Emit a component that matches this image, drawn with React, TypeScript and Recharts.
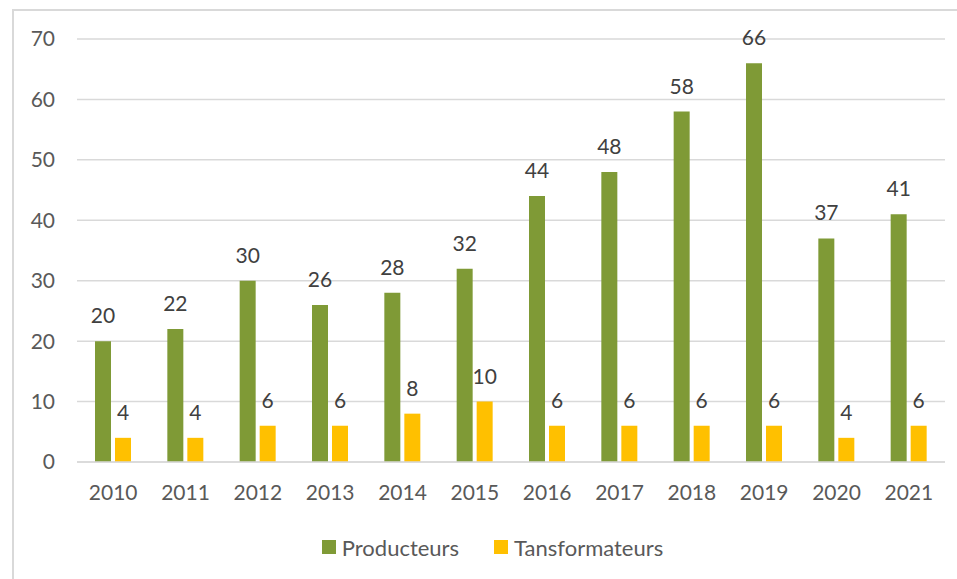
import React from 'react';
import { Bar, BarChart, CartesianGrid, LabelList, Legend, XAxis, YAxis } from 'recharts';

const YEARS = ['2010', '2011', '2012', '2013', '2014', '2015', '2016', '2017', '2018', '2019', '2020', '2021'];
const PRODUCTEURS = [20, 22, 30, 26, 28, 32, 44, 48, 58, 66, 37, 41];
const TRANSFORMATEURS = [4, 4, 6, 6, 8, 10, 6, 6, 6, 6, 4, 6];
const Y_TICKS = [0, 10, 20, 30, 40, 50, 60, 70];

const GREEN = '#7F9A36';
const YELLOW = '#FFC000';
const AXIS_TEXT = '#595959';
const LABEL_TEXT = '#404040';
const GRID = '#D9D9D9';
const FONT = 'Lato, "Open Sans", sans-serif';

const chartData = YEARS.map((year, i) => ({
  year,
  producteurs: PRODUCTEURS[i],
  transformateurs: TRANSFORMATEURS[i],
}));

const LegendContent = () => (
  <div
    style={{
      height: 40,
      display: 'flex',
      alignItems: 'center',
      justifyContent: 'center',
      paddingLeft: 40,
      fontFamily: FONT,
      fontSize: 22,
      color: AXIS_TEXT,
    }}
  >
    <span style={{ display: 'inline-block', width: 14, height: 14, background: GREEN, marginRight: 6 }} />
    <span style={{ marginRight: 35 }}>Producteurs</span>
    <span style={{ display: 'inline-block', width: 14, height: 14, background: YELLOW, marginRight: 6 }} />
    <span>Tansformateurs</span>
  </div>
);

export default function App() {
  return (
    <div style={{ position: 'fixed', left: 0, top: 0, width: 957, height: 579, background: '#fff', overflow: 'hidden' }}>
      <div
        style={{
          position: 'absolute',
          left: 12,
          top: 9,
          width: 980,
          height: 600,
          border: `2px solid ${GRID}`,
          boxSizing: 'border-box',
        }}
      />
      <div style={{ position: 'absolute', left: 0, top: 0 }}>
        <BarChart
          width={957}
          height={579}
          data={chartData}
          margin={{ top: 39, right: 12, left: 0, bottom: 12 }}
          barCategoryGap={18}
          barGap={4}
        >
          <CartesianGrid vertical={false} stroke={GRID} strokeWidth={1.5} />
          <XAxis
            dataKey="year"
            height={65}
            axisLine={{ stroke: GRID, strokeWidth: 1.5 }}
            tickLine={false}
            tickSize={0}
            tickMargin={23}
            tick={{ fill: AXIS_TEXT, fontSize: 21, fontFamily: FONT }}
          />
          <YAxis
            width={77}
            domain={[0, 70]}
            ticks={Y_TICKS}
            axisLine={false}
            tickLine={false}
            tickSize={0}
            tickMargin={22}
            tick={{ fill: AXIS_TEXT, fontSize: 21, fontFamily: FONT }}
          />
          <Legend verticalAlign="bottom" height={40} content={<LegendContent />} />
          <Bar dataKey="producteurs" name="Producteurs" fill={GREEN} isAnimationActive={false}>
            <LabelList
              dataKey="producteurs"
              position="top"
              offset={18}
              fill={LABEL_TEXT}
              fontSize={21}
              fontFamily={FONT}
            />
          </Bar>
          <Bar dataKey="transformateurs" name="Tansformateurs" fill={YELLOW} isAnimationActive={false}>
            <LabelList
              dataKey="transformateurs"
              position="top"
              offset={18}
              fill={LABEL_TEXT}
              fontSize={21}
              fontFamily={FONT}
            />
          </Bar>
        </BarChart>
      </div>
    </div>
  );
}
